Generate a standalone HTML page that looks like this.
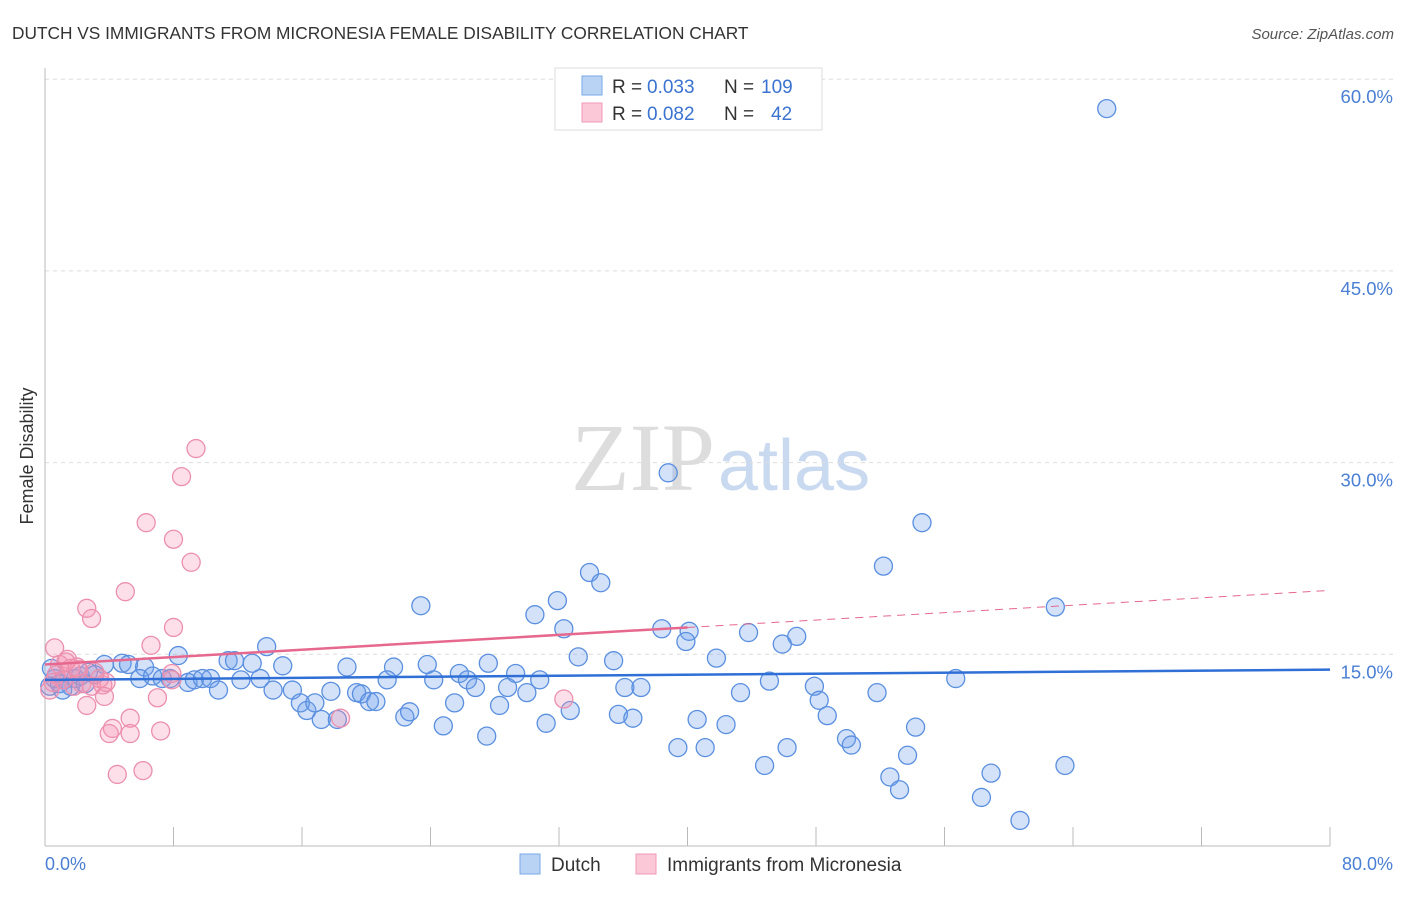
<!DOCTYPE html>
<html><head><meta charset="utf-8"><style>
body{margin:0;background:#fff;font-family:"Liberation Sans",sans-serif}
</style></head><body>
<svg width="1406" height="892" xmlns="http://www.w3.org/2000/svg" font-family="Liberation Sans, sans-serif">
<text x="12" y="39" font-size="17.3" fill="#333">DUTCH VS IMMIGRANTS FROM MICRONESIA FEMALE DISABILITY CORRELATION CHART</text>
<text x="1394" y="39" font-size="15" fill="#555" text-anchor="end" font-style="italic">Source: ZipAtlas.com</text>
<text x="715" y="490" font-size="96" fill="#ddd" text-anchor="end" font-family="Liberation Serif, serif">ZIP</text>
<text x="718" y="490" font-size="72" fill="#c9d9f0">atlas</text>
<g id="grid"></g>
<line x1="45" y1="68" x2="45" y2="846" stroke="#bbb"/>
<line x1="45" y1="846" x2="1330" y2="846" stroke="#bbb"/>
<g id="xticks"></g>
<text x="33" y="456" font-size="18" fill="#333" text-anchor="middle" transform="rotate(-90 33 456)">Female Disability</text>
<text x="45" y="870" font-size="18" fill="#4a7fd4">0.0%</text>
<text x="1393" y="870" font-size="18" fill="#4a7fd4" text-anchor="end">80.0%</text>
<g id="pts"></g>
<g id="lines"></g>
<g>
<rect x="555" y="68" width="267" height="62" fill="#fff" stroke="#ddd"/>
<rect x="582" y="76" width="20" height="19" fill="#b9d3f5" stroke="#7aa8e8"/>
<rect x="582" y="103" width="20" height="19" fill="#fac8d6" stroke="#f09ab5"/>
<text x="612" y="93" font-size="19" fill="#333">R =</text>
<text x="647" y="93" font-size="19" fill="#3b73d1">0.033</text>
<text x="724" y="93" font-size="19" fill="#333">N =</text>
<text x="761" y="93" font-size="19" fill="#3b73d1">109</text>
<text x="612" y="120" font-size="19" fill="#333">R =</text>
<text x="647" y="120" font-size="19" fill="#3b73d1">0.082</text>
<text x="724" y="120" font-size="19" fill="#333">N =</text>
<text x="771" y="120" font-size="19" fill="#3b73d1">42</text>
</g>
<g>
<rect x="520" y="854" width="20" height="20" fill="#b9d3f5" stroke="#7aa8e8"/>
<text x="551" y="871" font-size="19" fill="#333">Dutch</text>
<rect x="636" y="854" width="20" height="20" fill="#fac8d6" stroke="#f09ab5"/>
<text x="667" y="871" font-size="19" fill="#333">Immigrants from Micronesia</text>
</g>
</svg>
<script>
const yTicks=[15,30,45,60];
const yTickLabels=["15.0%","30.0%","45.0%","60.0%"];
const xTicks=[0,8,16,24,32,40,48,56,64,72,80];
const dutchX=[66.1,38.8,54.6,33.9,34.6,52.2,62.9,23.4,31.9,30.5,32.3,38.4,40.1,43.8,46.8,39.9,45.9,13.8,8.3,33.2,35.4,41.8,11.4,11.8,12.9,14.8,18.8,21.7,23.8,27.6,25.8,29.3,3.7,4.8,5.2,6.2,5.9,6.7,7.3,7.8,8.9,9.3,9.8,10.3,10.8,12.2,13.4,14.2,15.4,15.9,16.3,16.8,17.2,17.8,18.2,19.4,19.7,20.2,20.6,21.3,22.4,22.7,24.2,24.8,25.5,26.3,26.8,27.5,28.3,28.8,30.0,30.8,31.2,32.7,35.7,36.1,36.6,37.1,39.4,40.6,41.1,42.4,43.3,44.8,45.1,46.2,47.9,48.2,48.7,49.9,50.2,51.8,52.6,53.2,53.7,54.2,56.7,58.3,58.9,60.7,63.5,0.3,0.6,0.9,1.2,1.6,1.9,2.2,2.7,3.1,0.4,1.1,2.5];
const dutchY=[57.7,29.2,25.3,21.4,20.6,21.9,18.7,18.8,19.2,18.1,17.0,17.0,16.8,16.7,16.4,16.0,15.8,15.6,14.9,14.8,14.5,14.7,14.5,14.5,14.3,14.1,14.0,14.0,14.2,14.3,13.5,13.5,14.2,14.3,14.2,14.0,13.1,13.3,13.1,13.1,12.8,13.0,13.1,13.1,12.2,13.0,13.1,12.2,12.2,11.2,10.6,11.2,9.9,12.1,9.9,12.0,11.9,11.3,11.3,13.0,10.1,10.5,13.0,9.4,11.2,13.0,12.4,8.6,11.0,12.4,12.0,13.0,9.6,10.6,10.3,12.4,10.0,12.4,7.7,9.9,7.7,9.5,12.0,6.3,12.9,7.7,12.5,11.4,10.2,8.4,7.9,12.0,5.4,4.4,7.1,9.3,13.1,3.8,5.7,2.0,6.3,12.5,13.1,12.7,13.0,12.5,13.1,13.3,13.6,13.4,13.9,12.2,12.7];
const microX=[9.4,8.5,6.3,8.0,9.1,5.0,2.6,2.9,8.0,6.6,0.6,1.4,0.9,1.6,2.1,3.1,0.7,1.1,1.8,2.3,2.9,3.6,3.8,3.4,7.9,7.9,3.7,7.0,2.6,0.3,32.3,5.3,18.4,4.2,4.0,5.3,7.2,4.5,6.1,1.3,2.0,0.5];
const microY=[31.1,28.9,25.3,24.0,22.2,19.9,18.6,17.8,17.1,15.7,15.5,14.6,14.2,13.9,13.8,13.6,13.4,13.0,12.5,12.7,12.5,12.6,12.8,13.1,13.5,13.0,11.7,11.6,11.0,12.2,11.5,10.0,10.0,9.2,8.8,8.8,9.0,5.6,5.9,14.4,14.0,12.8];
const dutchTrend=[13.0,13.8];
const microTrend=[14.2,17.1,20.0];
const NS="http://www.w3.org/2000/svg";
const X=v=>45+v*16.0625, Y=v=>846-v*12.78;
function mk(t,a,p){const e=document.createElementNS(NS,t);for(const k in a)e.setAttribute(k,a[k]);p.appendChild(e);return e;}
const grid=document.getElementById('grid');
yTicks.forEach((t,i)=>{
 const l=mk('line',{x1:45,x2:1393,y1:Y(t),y2:Y(t),stroke:'#ddd','stroke-dasharray':'4,4'},grid);
 
 
 const tx=mk('text',{x:1393,y:Y(t)+24,'font-size':18.5,fill:'#4a7fd4','text-anchor':'end'},grid);
 tx.textContent=yTickLabels[i];
 
 
});
const xt=document.getElementById('xticks');
xTicks.forEach(t=>{
 const l=mk('line',{x1:X(t),x2:X(t),y1:827,y2:846,stroke:'#bbb'},xt);
 
 
});
const pts=document.getElementById('pts');
dutchX.forEach((v,i)=>{
 const c=mk('circle',{cx:X(v),cy:Y(dutchY[i]),r:9,fill:'rgba(110,160,235,0.3)',stroke:'#5a8fe0','stroke-width':1.3},pts);
 
 
});
microX.forEach((v,i)=>{
 const c=mk('circle',{cx:X(v),cy:Y(microY[i]),r:9,fill:'rgba(245,150,180,0.3)',stroke:'#ec8fae','stroke-width':1.3},pts);
 
 
});
const ln=document.getElementById('lines');
let a=mk('line',{x1:X(0),y1:Y(dutchTrend[0]),x2:X(80),y2:Y(dutchTrend[1]),stroke:'#2f6fd6','stroke-width':2.5},ln);


let b=mk('line',{x1:X(0),y1:Y(microTrend[0]),x2:X(40),y2:Y(microTrend[1]),stroke:'#e6688e','stroke-width':2.5},ln);


let c=mk('line',{x1:X(40),y1:Y(microTrend[1]),x2:X(80),y2:Y(microTrend[2]),stroke:'#e6688e','stroke-width':1,'stroke-dasharray':'8,6'},ln);


</script>
</body></html>
